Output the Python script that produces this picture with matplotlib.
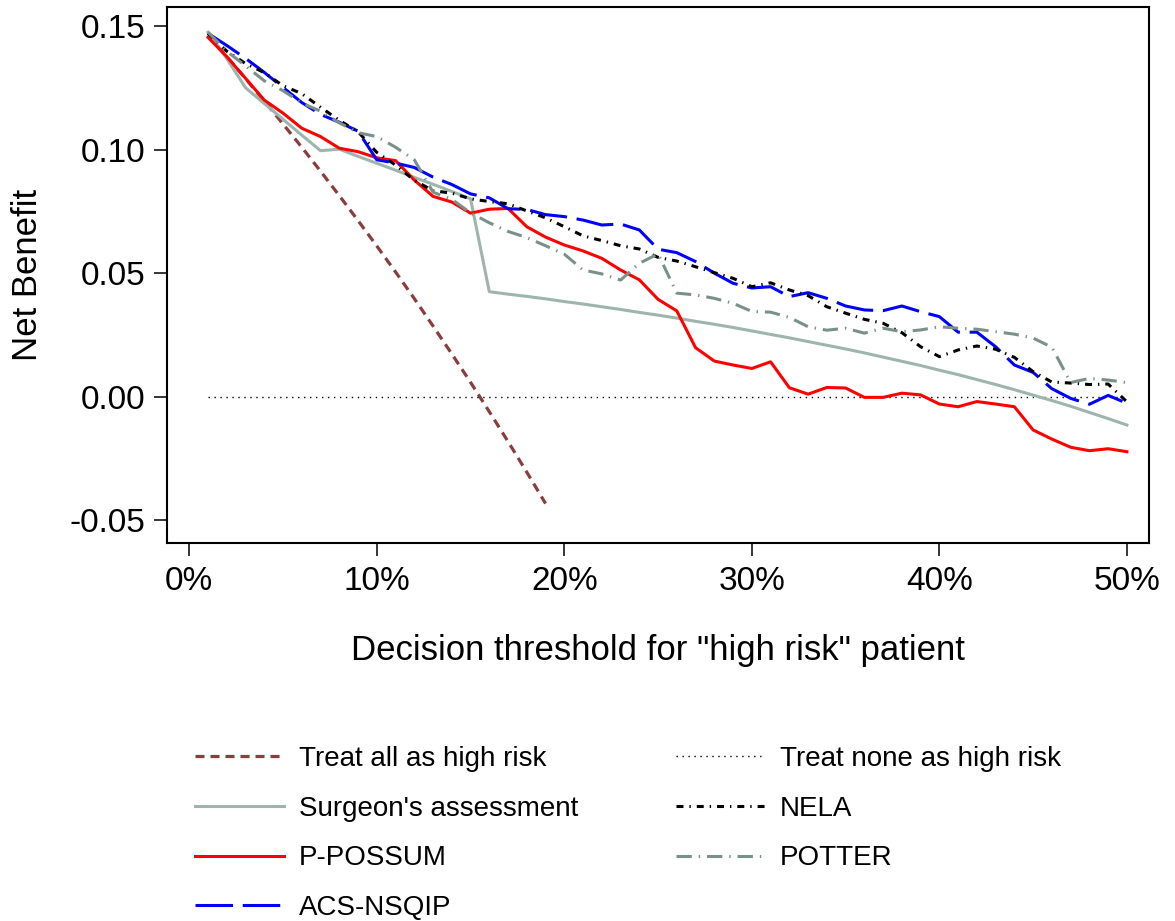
import matplotlib
matplotlib.use('Agg')
import matplotlib.pyplot as plt

plt.rcParams['font.family'] = ['Liberation Sans', 'DejaVu Sans']
plt.rcParams['axes.unicode_minus'] = False
plt.rcParams['lines.scale_dashes'] = False

# decision thresholds in percent
threshold = list(range(1, 51))
threshold_all = list(range(1, 20))

treat_all = [0.1465, 0.1378, 0.1289, 0.1198, 0.1105, 0.1011, 0.0914, 0.0815, 0.0714, 0.0611,
             0.0506, 0.0398, 0.0287, 0.0174, 0.0059, -0.0060, -0.0181, -0.0305, -0.0432]
treat_none = [0.0] * 50

surgeon = [0.1477, 0.1370, 0.1252, 0.1188, 0.1124, 0.1060, 0.0997, 0.1003, 0.0974, 0.0946,
           0.0918, 0.0889, 0.0861, 0.0832, 0.0802, 0.0426, 0.0416, 0.0407, 0.0397, 0.0386,
           0.0376, 0.0365, 0.0354, 0.0342, 0.0331, 0.0319, 0.0306, 0.0294, 0.0281, 0.0267,
           0.0253, 0.0239, 0.0224, 0.0209, 0.0194, 0.0178, 0.0161, 0.0144, 0.0127, 0.0108,
           0.0090, 0.0070, 0.0050, 0.0029, 0.0007, -0.0015, -0.0038, -0.0063, -0.0088, -0.0114]

p_possum = [0.1456, 0.1378, 0.1290, 0.1202, 0.1149, 0.1088, 0.1054, 0.1007, 0.0993, 0.0968,
            0.0957, 0.0878, 0.0812, 0.0789, 0.0744, 0.0760, 0.0763, 0.0689, 0.0647, 0.0615,
            0.0591, 0.0561, 0.0514, 0.0474, 0.0395, 0.0348, 0.0199, 0.0145, 0.0129, 0.0115,
            0.0142, 0.0037, 0.0011, 0.0038, 0.0036, -0.0002, -0.0002, 0.0015, 0.0008, -0.0029,
            -0.0040, -0.0019, -0.0029, -0.0040, -0.0134, -0.0171, -0.0204, -0.0218, -0.0210, -0.0222]

acs_nsqip = [0.1472, 0.1423, 0.1371, 0.1314, 0.1253, 0.1192, 0.1144, 0.1112, 0.1076, 0.0960,
             0.0947, 0.0929, 0.0890, 0.0860, 0.0822, 0.0806, 0.0762, 0.0759, 0.0738, 0.0730,
             0.0716, 0.0696, 0.0700, 0.0676, 0.0598, 0.0584, 0.0548, 0.0501, 0.0460, 0.0441,
             0.0446, 0.0406, 0.0422, 0.0399, 0.0368, 0.0352, 0.0349, 0.0368, 0.0345, 0.0325,
             0.0262, 0.0262, 0.0203, 0.0129, 0.0099, 0.0033, -0.0006, -0.0030, 0.0006, -0.0026]

nela = [0.1473, 0.1400, 0.1350, 0.1313, 0.1260, 0.1228, 0.1173, 0.1120, 0.1074, 0.0990,
        0.0939, 0.0877, 0.0835, 0.0825, 0.0802, 0.0791, 0.0782, 0.0753, 0.0725, 0.0689,
        0.0652, 0.0633, 0.0612, 0.0599, 0.0565, 0.0550, 0.0527, 0.0503, 0.0480, 0.0446,
        0.0462, 0.0433, 0.0410, 0.0365, 0.0339, 0.0314, 0.0298, 0.0260, 0.0203, 0.0163,
        0.0190, 0.0206, 0.0193, 0.0160, 0.0102, 0.0060, 0.0056, 0.0050, 0.0052, -0.0020]

potter = [0.1477, 0.1400, 0.1340, 0.1280, 0.1240, 0.1190, 0.1157, 0.1110, 0.1070, 0.1054,
          0.1011, 0.0960, 0.0829, 0.0800, 0.0745, 0.0705, 0.0670, 0.0645, 0.0612, 0.0578,
          0.0514, 0.0498, 0.0473, 0.0541, 0.0579, 0.0420, 0.0413, 0.0399, 0.0379, 0.0346,
          0.0343, 0.0322, 0.0284, 0.0270, 0.0278, 0.0258, 0.0278, 0.0264, 0.0271, 0.0284,
          0.0278, 0.0274, 0.0264, 0.0254, 0.0238, 0.0201, 0.0058, 0.0075, 0.0068, 0.0058]

x_ticks = [0, 10, 20, 30, 40, 50]
x_tick_labels = ['0%', '10%', '20%', '30%', '40%', '50%']
y_ticks = [-0.05, 0.0, 0.05, 0.10, 0.15]
y_tick_labels = ['-0.05', '0.00', '0.05', '0.10', '0.15']

fig = plt.figure(figsize=(11.75, 9.21), dpi=100)
ax = fig.add_axes([0.1424, 0.4101, 0.9779 - 0.1424, 0.9927 - 0.4101])

h_all, = ax.plot(threshold_all, treat_all, color='#8b3d3d', lw=2.3, dashes=(6.5, 4.3),
                 label='Treat all as high risk')
h_none, = ax.plot(threshold, treat_none, color='black', lw=1.0, dashes=(1, 3.3),
                  label='Treat none as high risk')
h_surg, = ax.plot(threshold, surgeon, color='#9db5ad', lw=2.2, label="Surgeon's assessment")
h_poss, = ax.plot(threshold, p_possum, color='#ff0000', lw=2.2, label='P-POSSUM')
h_acs, = ax.plot(threshold, acs_nsqip, color='#0000ff', lw=2.2, dashes=(27, 7),
                 label='ACS-NSQIP')
h_nela, = ax.plot(threshold, nela, color='black', lw=2.2, dashes=(5, 4.3, 1, 4.3),
                  label='NELA')
h_pot, = ax.plot(threshold, potter, color='#7a9189', lw=2.2, dashes=(11, 5, 1, 5),
                 label='POTTER')

ax.set_xlim(-1.17, 51.18)
ax.set_ylim(-0.0593, 0.158)
ax.set_xticks(x_ticks)
ax.set_xticklabels(x_tick_labels)
ax.set_yticks(y_ticks)
ax.set_yticklabels(y_tick_labels)
ax.tick_params(labelsize=24, length=9.5, width=1.1, pad=6.5, direction='out')
for s in ax.spines.values():
    s.set_linewidth(1.5)

ax.set_xlabel('Decision threshold for "high risk" patient', fontsize=25)
ax.set_ylabel('Net Benefit', fontsize=25)
ax.xaxis.label.set_va('center')
ax.xaxis.set_label_coords(0.5, -0.2)
ax.yaxis.label.set_va('center')
ax.yaxis.set_label_coords(-0.142, 0.5)

handles = [h_all, h_surg, h_poss, h_acs, h_none, h_nela, h_pot]
fig.legend(handles=handles, labels=[h.get_label() for h in handles], ncol=2,
           loc='upper left', bbox_to_anchor=(195 / 1175, 1 - 746 / 921),
           frameon=False, fontsize=20, handlelength=3.2, handletextpad=0.55,
           columnspacing=3.5, labelspacing=0.85, borderpad=0, borderaxespad=0)

fig.savefig('out.png', dpi=100)
